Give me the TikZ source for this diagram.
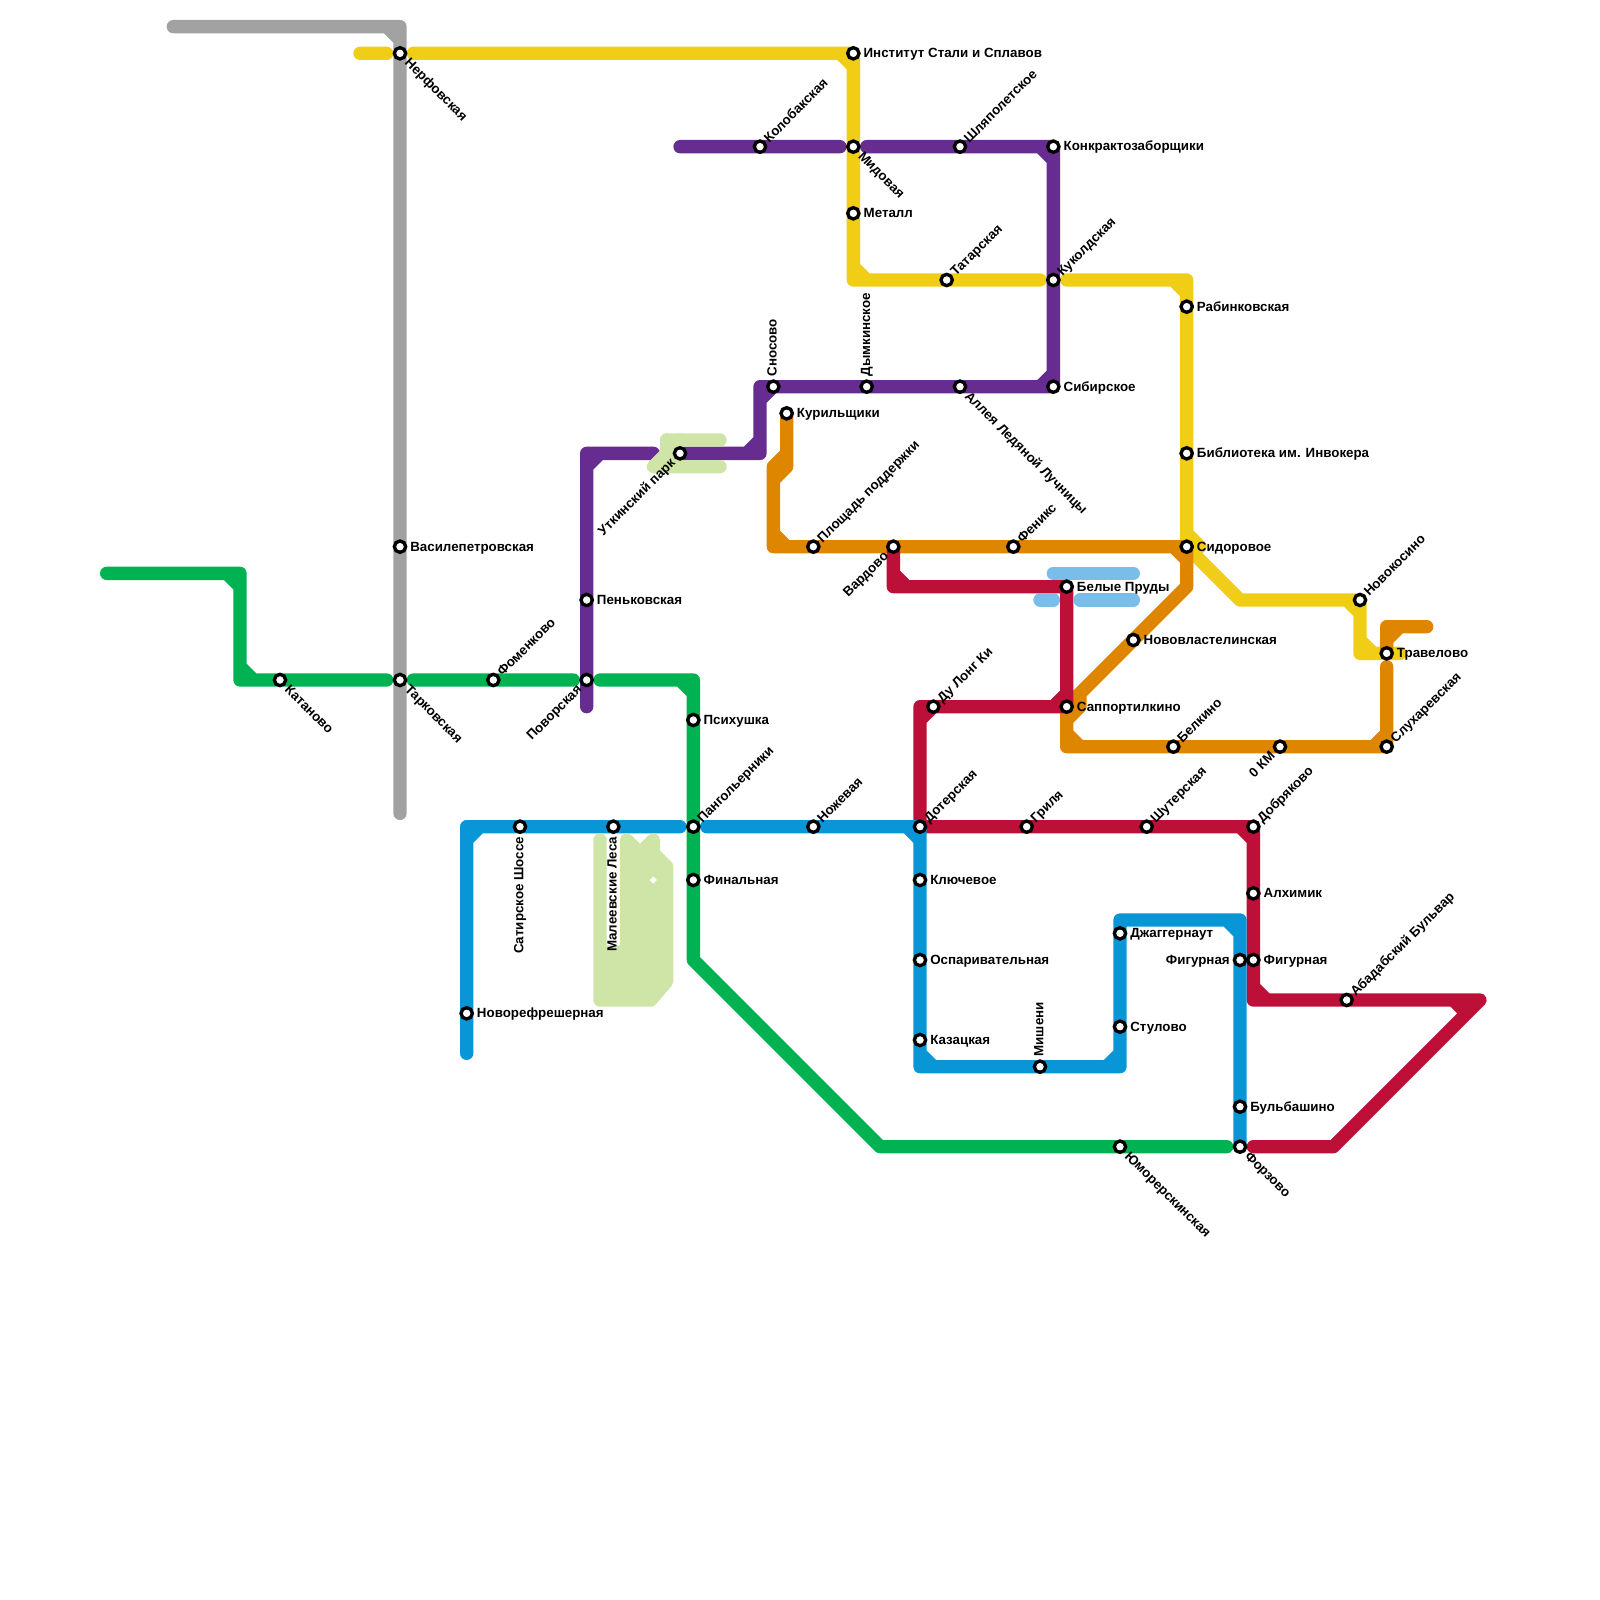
\documentclass[tikz,border=0pt]{standalone}
\usepackage{fontspec}
\setmainfont{Liberation Sans}
\definecolor{cgrey}{HTML}{A2A2A2}
\definecolor{cyellow}{HTML}{F0CE15}
\definecolor{cgreen}{HTML}{00B251}
\definecolor{cblue}{HTML}{0896D7}
\definecolor{cpurple}{HTML}{662C90}
\definecolor{corange}{HTML}{DF8600}
\definecolor{cred}{HTML}{BD1038}
\definecolor{clblue}{HTML}{79BDE9}
\definecolor{clgreen}{HTML}{CFE4A7}
\pgfdeclarelayer{lines}
\pgfsetlayers{lines,main}
\tikzset{
  route/.style={line width=0.3cm,line join=round,line cap=round,draw=#1},
  station/.style={circle,draw=black,fill=white,line width=0.075cm,minimum size=0.255cm,inner sep=0pt},
  lbl/.style={font=\fontsize{8.54}{10}\selectfont\bfseries,inner xsep=0.225cm,inner ysep=0pt,text height=0.195cm,text depth=0pt,text=black},
  R/.style={lbl,anchor=west},
  L/.style={lbl,anchor=east},
  UR/.style={lbl,rotate=45,anchor=west,inner xsep=0.19cm},
  UL/.style={lbl,rotate=45,anchor=east},
  DR/.style={lbl,rotate=-45,anchor=west},
  VU/.style={lbl,rotate=90,anchor=west,text height=0.15cm},
  VD/.style={lbl,rotate=90,anchor=east,text height=0.15cm}
}
% \st{name}{x}{y}{label style}{text}
\newcommand{\st}[5]{\node[#4] (#1-t) at (#2,#3) {#5};\node[station] (#1) at (#2,#3) {};}
\begin{document}
\begin{tikzpicture}[x=0.3cm,y=-0.3cm]
\useasboundingbox (0,0) rectangle (120,120);
% stations
\st{nrf}{30}{4}{DR}{Нерфовская}
\st{ins}{64}{4}{R}{Институт Стали и Сплавов}
\st{kol}{57}{11}{UR}{Колобакская}
\st{mid}{64}{11}{DR}{Мидовая}
\st{shl}{72}{11}{UR}{Шляполетское}
\st{kon}{79}{11}{R}{Конкрактозаборщики}
\st{met}{64}{16}{R}{Металл}
\st{tat}{71}{21}{UR}{Татарская}
\st{kuk}{79}{21}{UR}{Куколдская}
\st{rab}{89}{23}{R}{Рабинковская}
\st{sno}{58}{29}{VU}{Сносово}
\st{dym}{65}{29}{VU}{Дымкинское}
\st{all}{72}{29}{DR}{Аллея Ледяной Лучницы}
\st{sib}{79}{29}{R}{Сибирское}
\st{kur}{59}{31}{R}{Курильщики}
\st{utk}{51}{34}{UL}{Уткинский парк}
\st{bib}{89}{34}{R}{Библиотека им. Инвокера}
\st{vas}{30}{41}{R}{Василепетровская}
\st{pls}{61}{41}{UR}{Площадь поддержки}
\st{var}{67}{41}{UL}{Вардово}
\st{fen}{76}{41}{UR}{Феникс}
\st{sid}{89}{41}{R}{Сидоровое}
\st{bpr}{80}{44}{R}{Белые Пруды}
\st{pen}{44}{45}{R}{Пеньковская}
\st{nks}{102}{45}{UR}{Новокосино}
\st{nvl}{85}{48}{R}{Нововластелинская}
\st{tra}{104}{49}{R}{Травелово}
\st{kat}{21}{51}{DR}{Катаново}
\st{tar}{30}{51}{DR}{Тарковская}
\st{fom}{37}{51}{UR}{Фоменково}
\st{pov}{44}{51}{UL}{Поворская}
\st{dul}{70}{53}{UR}{Ду Лонг Ки}
\st{sap}{80}{53}{R}{Саппортилкино}
\st{psi}{52}{54}{R}{Психушка}
\st{bel}{88}{56}{UR}{Белкино}
\st{km}{96}{56}{UL}{0 КМ}
\st{slu}{104}{56}{UR}{Слухаревская}
\st{sat}{39}{62}{VD}{Сатирское Шоссе}
\st{mal}{46}{62}{VD}{Малеевские Леса}
\st{pan}{52}{62}{UR}{Пангольерники}
\st{noz}{61}{62}{UR}{Ножевая}
\st{dot}{69}{62}{UR}{Дотерская}
\st{gri}{77}{62}{UR}{Гриля}
\st{shu}{86}{62}{UR}{Шутерская}
\st{dob}{94}{62}{UR}{Добряково}
\st{fin}{52}{66}{R}{Финальная}
\st{klu}{69}{66}{R}{Ключевое}
\st{alk}{94}{67}{R}{Алхимик}
\st{dzh}{84}{70}{R}{Джаггернаут}
\st{osp}{69}{72}{R}{Оспаривательная}
\st{fia}{93}{72}{L}{Фигурная}
\st{fib}{94}{72}{R}{Фигурная}
\st{aba}{101}{75}{UR}{Абадабский Бульвар}
\st{nrs}{35}{76}{R}{Новорефрешерная}
\st{stu}{84}{77}{R}{Стулово}
\st{kaz}{69}{78}{R}{Казацкая}
\st{mis}{78}{80}{VU}{Мишени}
\st{bul}{93}{83}{R}{Бульбашино}
\st{yum}{84}{86}{DR}{Юморерскинская}
\st{frz}{93}{86}{DR}{Форзово}
\begin{pgfonlayer}{lines}
\fill[white] (0,0) rectangle (120,120);
% grey
\draw[route=cgrey] (13,2)--(30,2)--(30,61) (29,2)--(30,3);
% yellow
\draw[route=cyellow] (27,4)--(29,4) (31,4)--(ins.center)--(mid.center)--(met.center)--(64,21)--(tat.center)--(78,21)
  (63,4)--(64,5) (64,20)--(65,21)
  (80,21)--(89,21)--(rab.center)--(bib.center)--(sid.center)--(93,45)--(nks.center)--(102,49)--(tra.center)--(105,49)
  (88,21)--(89,22) (89,40)--(90,41) (101,45)--(102,46) (102,48)--(103,49);
% orange
\draw[route=corange] (kur.center)--(59,35)--(58,36)--(58,35)--(59,34) (58,35)--(58,41)--(pls.center)--(var.center)--(fen.center)--(sid.center)--(89,44)--(nvl.center)--(sap.center)--(80,56)--(bel.center)--(km.center)--(slu.center)--(104,50)
  (58,40)--(59,41) (88,41)--(89,42) (81,52)--(81,53)--(80,54) (80,55)--(81,56) (103,56)--(104,55)
  (tra.center)--(104,47)--(107,47) (105,47)--(104,48);
% red
\draw[route=cred] (var.center)--(67,44)--(bpr.center)--(sap.center)--(dul.center)--(69,53)--(dot.center)
  (67,43)--(68,44) (79,53)--(80,52) (69,54)--(70,53)
  (dot.center)--(gri.center)--(shu.center)--(dob.center)--(alk.center)--(fib.center)--(94,75)--(aba.center)--(111,75)--(100,86)--(94,86)
  (93,62)--(94,63) (94,74)--(95,75) (109,75)--(110,76);
% blue
\draw[route=cblue] (35,79)--(nrs.center)--(35,62)--(sat.center)--(mal.center)--(51,62) (35,63)--(36,62)
  (53,62)--(noz.center)--(dot.center)--(klu.center)--(osp.center)--(kaz.center)--(69,80)--(mis.center)--(84,80)--(stu.center)--(dzh.center)--(84,69)--(93,69)--(fia.center)--(bul.center)--(frz.center)
  (68,62)--(69,63) (69,79)--(70,80) (83,80)--(84,79) (92,69)--(93,70);
% green
\draw[route=cgreen] (8,43)--(18,43)--(18,51)--(kat.center)--(29,51) (17,43)--(18,44) (18,50)--(19,51)
  (31,51)--(fom.center)--(43,51)
  (45,51)--(52,51)--(psi.center)--(pan.center)--(fin.center)--(52,72)--(66,86)--(yum.center)--(92,86) (51,51)--(52,52);
% purple
\draw[route=cpurple] (44,53)--(pov.center)--(pen.center)--(44,34)--(49,34) (44,35)--(45,34)
  (utk.center)--(57,34)--(57,29)--(sno.center)--(dym.center)--(all.center)--(sib.center)--(kuk.center)--(kon.center)--(shl.center)--(65,11)
  (56,34)--(57,33) (57,30)--(58,29) (78,29)--(79,28) (78,11)--(79,12)
  (51,11)--(kol.center)--(63,11);
% light blue
\draw[route=clblue] (79,43)--(85,43) (78,45)--(79,45) (81,45)--(85,45);
% light green
\draw[route=clgreen] (54,33)--(50,33)--(50,34)--(49,35)--(54,35);
\draw[route=clgreen] (50,33)--(50,34.2) (50,34)--(51,35) (51,33)--(50.5,34);
\draw[route=clgreen,fill=clgreen] (45,63)--(45,75)--(48.8,75)--(50,73.6)--(50,65)--(49,64)--(49,63)--(48,64)--(47,63)--(47,71.4)--(45,71.4)--cycle;
\fill[white] (49,65.73)--(49.27,66)--(49,66.27)--(48.73,66)--cycle;
\end{pgfonlayer}
\end{tikzpicture}
\end{document}
